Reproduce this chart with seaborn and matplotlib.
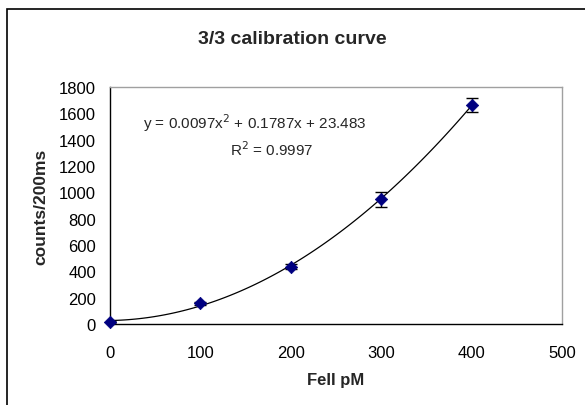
import matplotlib
matplotlib.use("Agg")
import matplotlib.pyplot as plt
import numpy as np
import seaborn as sns
from matplotlib.patches import Rectangle

# data
conc_pm = [0, 100, 200, 300, 400]
counts = [18, 158, 435, 948, 1663]
count_err = [8, 12, 20, 58, 55]

title = "3/3 calibration curve"
eq_text = "y = 0.0097x$^2$ + 0.1787x + 23.483"
r2_text = "R$^2$ = 0.9997"

sns.set_style("white")
plt.rcParams['font.family'] = ['Liberation Sans', 'DejaVu Sans']

fig = plt.figure(figsize=(5.85, 4.06), dpi=100)
ax = fig.add_axes([110 / 585, 1 - 325 / 406, 452 / 585, 237 / 406])

# outer chart frame (only left/top edges visible in the crop)
fig.patches.append(Rectangle((7 / 585, -0.1), 1.2, 1 - 10 / 406 + 0.1,
                             transform=fig.transFigure, fill=False,
                             edgecolor='black', linewidth=1.2, zorder=0))

# polynomial trendline (order 2)
sns.regplot(x=np.array(conc_pm), y=np.array(counts), order=2, ci=None,
            scatter=False, truncate=True, ax=ax,
            line_kws={'color': 'black', 'linewidth': 0.9})

ax.errorbar(conc_pm, counts, yerr=count_err, fmt='none', ecolor='black',
            elinewidth=1, capsize=4, capthick=1, zorder=3)
pts = sns.scatterplot(x=conc_pm, y=counts, marker='D', s=40, color='#000080',
                      edgecolor='#000080', ax=ax, zorder=4)
for coll in ax.collections:
    coll.set_clip_on(False)

ax.set_xlim(0, 500)
ax.set_ylim(0, 1800)
ax.set_xticks(range(0, 501, 100))
ax.set_yticks(range(0, 1801, 200))
ax.tick_params(axis='both', direction='out', length=4, width=1,
               colors='black', labelsize=12, pad=6)
ax.tick_params(axis='x', pad=11)

for side in ['left', 'bottom']:
    ax.spines[side].set_color('black')
    ax.spines[side].set_linewidth(1)
for side in ['top', 'right']:
    ax.spines[side].set_color('#a0a0a0')
    ax.spines[side].set_linewidth(1)

ax.set_xlabel("FeII pM", fontsize=12, fontweight='bold', labelpad=9)
ax.set_ylabel("counts/200ms", fontsize=12.5, fontweight='bold', labelpad=8)

fig.text(292 / 585, 1 - 39 / 406, title, ha='center', va='center',
         fontsize=14, fontweight='bold')
ax.text(0.321, 0.852, eq_text, transform=ax.transAxes, ha='center',
        va='center', fontsize=11)
ax.text(0.358, 0.738, r2_text, transform=ax.transAxes, ha='center',
        va='center', fontsize=11)

fig.savefig("out.png", dpi=100)
